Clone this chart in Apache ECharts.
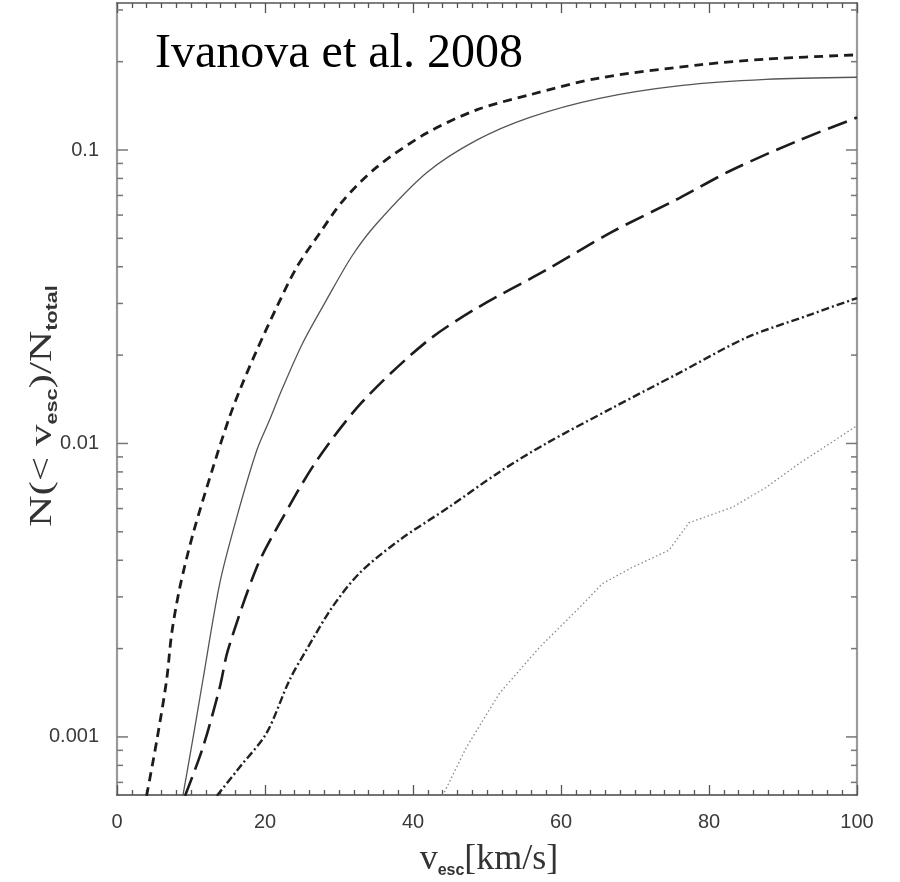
<!DOCTYPE html>
<html><head><meta charset="utf-8">
<script src="https://cdn.jsdelivr.net/npm/echarts@6/dist/echarts.min.js"></script>
<style>html,body{margin:0;padding:0;background:#fff}#c{width:900px;height:882px}</style>
</head><body><div id="c"></div>
<script>
// ---- data (x: v_esc in km/s, y: N(<v_esc)/N_total) ----
const shortDashX = [4.0, 5.4, 6.7, 7.4, 8.5, 10.3, 13.0, 15.2, 17.0, 18.9, 21.6, 24.3, 27.4, 30.5, 35.1, 41.8, 48.6, 55.7, 65.2, 78.7, 87.7, 100];
const shortDashY = [0.00063, 0.00098, 0.00156, 0.00226, 0.00324, 0.00495, 0.00832, 0.0123, 0.0161, 0.0208, 0.0292, 0.0399, 0.0521, 0.067, 0.0874, 0.114, 0.137, 0.154, 0.176, 0.195, 0.204, 0.211];

const solidX = [8.9, 10.3, 11.6, 13.9, 16.2, 18.9, 20.6, 22.4, 25.1, 28.3, 31.8, 35.1, 41.8, 48.6, 55.7, 65.2, 76.4, 87.7, 100];
const solidY = [0.00063, 0.0010, 0.00156, 0.00335, 0.00562, 0.0095, 0.0120, 0.0155, 0.0220, 0.0308, 0.0437, 0.0562, 0.0835, 0.108, 0.129, 0.150, 0.166, 0.174, 0.177];

const longDashX = [9.2, 11.6, 13.9, 15.0, 18.9, 22.0, 27.0, 33.2, 41.8, 48.7, 58.0, 66.9, 76.0, 83.1, 92.2, 100];
const longDashY = [0.00063, 0.00092, 0.00148, 0.00198, 0.00379, 0.00536, 0.00875, 0.0139, 0.0222, 0.0290, 0.0390, 0.0526, 0.0686, 0.0855, 0.108, 0.129];

const dashDotX = [13.5, 16.6, 20.2, 23.3, 25.6, 29.1, 32.8, 38.2, 44.9, 51.7, 58.0, 66.9, 76.0, 85.0, 93.9, 100];
const dashDotY = [0.00063, 0.00079, 0.00103, 0.00156, 0.00198, 0.00277, 0.00362, 0.00469, 0.00608, 0.0080, 0.0100, 0.0132, 0.0174, 0.0229, 0.0276, 0.0313];

const dottedX = [44.0, 47.2, 51.7, 57.1, 62.5, 65.6, 69.6, 74.6, 77.3, 83.1, 87.7, 92.2, 96.6, 100];
const dottedY = [0.00063, 0.00092, 0.00141, 0.00202, 0.00276, 0.00333, 0.00378, 0.00433, 0.00537, 0.00605, 0.00708, 0.00855, 0.0101, 0.0115];

const xTicks = [0, 20, 40, 60, 80, 100];
const yMajorTicks = [0.001, 0.01, 0.1];
const yTickLabels = ['0.001', '0.01', '0.1'];
const yMinorTicks = [0.0007, 0.0008, 0.0009, 0.002, 0.003, 0.004, 0.005, 0.006, 0.007, 0.008, 0.009,
                     0.02, 0.03, 0.04, 0.05, 0.06, 0.07, 0.08, 0.09, 0.2, 0.3];
const yRange = [0.000634, 0.3169];
const annotation = 'Ivanova et al. 2008';

// ---- chart ----
const pair = (xs, ys) => xs.map((x, i) => [x, ys[i]]);
const chart = echarts.init(document.getElementById('c'), null, {renderer: 'canvas'});

const labelFont = {fontFamily: '"Liberation Sans", Arial, sans-serif', fontSize: 20, color: '#3a3a3a'};
const xAxisBase = {
  type: 'value', min: xTicks[0], max: xTicks[xTicks.length - 1], interval: xTicks[1] - xTicks[0],
  splitLine: {show: false},
  axisTick: {show: true, inside: true, length: 10, lineStyle: {color: '#555', width: 1.3}},
  minorTick: {show: true, splitNumber: 10, length: 5, lineStyle: {color: '#555', width: 1.3}},
  minorSplitLine: {show: false}
};

const yLabelFmt = v => {
  const l = Math.log10(v);
  for (let i = 0; i < yMajorTicks.length; i++) {
    if (Math.abs(l - Math.log10(yMajorTicks[i])) < 1e-6) return yTickLabels[i];
  }
  return '';
};

const tickData = yMajorTicks.map(v => [0, v, 11]).concat(yMinorTicks.map(v => [0, v, 6]));

const option = {
  backgroundColor: '#fff',
  animation: false,
  grid: {left: 117, right: 43, top: 3, bottom: 87, containLabel: false},
  xAxis: [
    Object.assign({}, xAxisBase, {
      position: 'bottom',
      axisLine: {show: true, onZero: false, lineStyle: {color: '#444', width: 1.6}},
      axisLabel: Object.assign({margin: 17}, labelFont)
    }),
    Object.assign({}, xAxisBase, {
      position: 'top',
      axisLine: {show: true, onZero: false, lineStyle: {color: '#555', width: 1.6}},
      axisLabel: {show: false}
    })
  ],
  yAxis: [
    {
      type: 'log', logBase: 10, min: yRange[0], max: yRange[1], position: 'left',
      splitLine: {show: false},
      axisLine: {show: true, onZero: false, lineStyle: {color: '#9a9a9a', width: 2.2}},
      axisTick: {show: false},
      axisLabel: Object.assign({margin: 18, formatter: yLabelFmt, showMinLabel: false, showMaxLabel: false}, labelFont)
    },
    {
      type: 'log', logBase: 10, min: yRange[0], max: yRange[1], position: 'right',
      splitLine: {show: false},
      axisLine: {show: true, onZero: false, lineStyle: {color: '#9a9a9a', width: 2.2}},
      axisTick: {show: false},
      axisLabel: {show: false}
    }
  ],
  series: [
    {
      type: 'custom', xAxisIndex: 0, yAxisIndex: 0, silent: true, clip: false,
      data: tickData,
      renderItem: (params, api) => {
        const v = api.value(1), len = api.value(2);
        const l = api.coord([xTicks[0], v]);
        const r = api.coord([xTicks[xTicks.length - 1], v]);
        const st = {stroke: '#777', lineWidth: 1.5};
        return {type: 'group', children: [
          {type: 'line', shape: {x1: l[0], y1: l[1], x2: l[0] + len, y2: l[1]}, style: st},
          {type: 'line', shape: {x1: r[0] - len, y1: r[1], x2: r[0], y2: r[1]}, style: st}
        ]};
      }
    },
    {type: 'line', data: pair(shortDashX, shortDashY), showSymbol: false, smooth: 0.3, clip: true,
     lineStyle: {color: '#1c1c1c', width: 2.8, type: [9, 6]}},
    {type: 'line', data: pair(solidX, solidY), showSymbol: false, smooth: 0.3, clip: true,
     lineStyle: {color: '#555', width: 1.3}},
    {type: 'line', data: pair(longDashX, longDashY), showSymbol: false, smooth: 0.3, clip: true,
     lineStyle: {color: '#1c1c1c', width: 2.6, type: [20, 8]}},
    {type: 'line', data: pair(dashDotX, dashDotY), showSymbol: false, smooth: 0.3, clip: true,
     lineStyle: {color: '#222', width: 2.4, type: [8, 3, 2, 3]}},
    {type: 'line', data: pair(dottedX, dottedY), showSymbol: false, smooth: false, clip: true,
     lineStyle: {color: '#888', width: 1.3, type: [1.5, 2.5]}}
  ],
  graphic: [
    {type: 'text', x: 155, y: 54, silent: true,
     style: {text: annotation, fontFamily: '"Liberation Serif", "Times New Roman", serif', fontSize: 48,
             fill: '#000', align: 'left', verticalAlign: 'middle'}},
    {type: 'text', x: 43, y: 406, rotation: Math.PI / 2, scaleX: 1.35, silent: true,
     style: {text: '{m|N(< v}{s|esc}{m|)/N}{s|total}', align: 'center', verticalAlign: 'middle',
             rich: {
               m: {fontFamily: '"Liberation Serif", serif', fontSize: 32, fill: '#333'},
               s: {fontFamily: '"Liberation Sans", sans-serif', fontWeight: 'bold', fontSize: 16, fill: '#333', padding: [19, 0, 0, 0]}
             }}},
    {type: 'text', x: 489, y: 860, silent: true,
     style: {text: '{m|v}{s|esc}{m|[km/s]}', align: 'center', verticalAlign: 'middle',
             rich: {
               m: {fontFamily: '"Liberation Serif", serif', fontSize: 36, fill: '#333'},
               s: {fontFamily: '"Liberation Sans", sans-serif', fontWeight: 'bold', fontSize: 16, fill: '#333', padding: [21, 0, 0, 0]}
             }}}
  ]
};
chart.setOption(option);
</script></body></html>
